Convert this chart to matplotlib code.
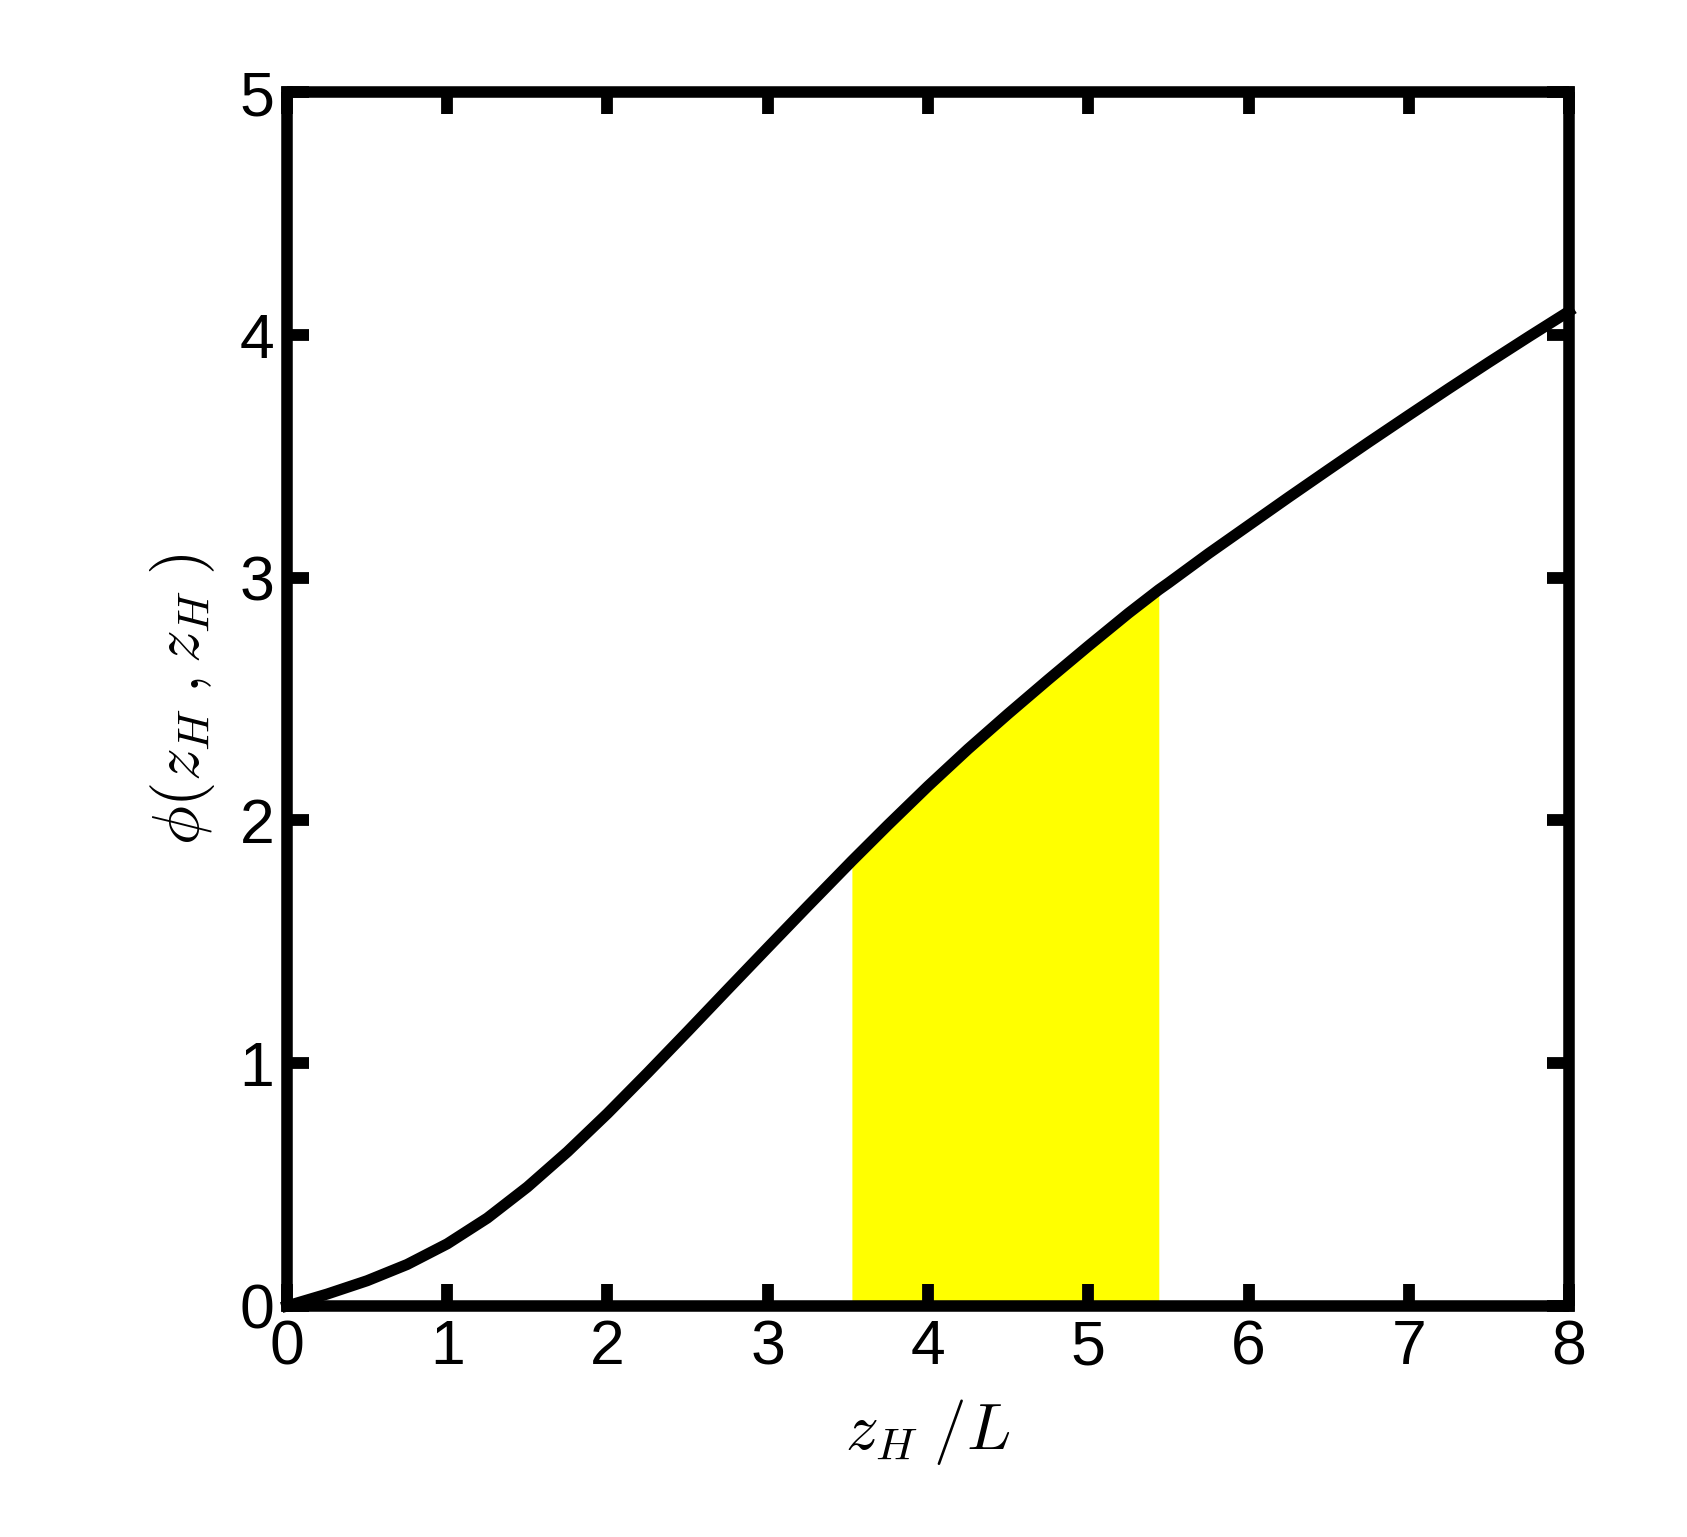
import matplotlib
matplotlib.use("Agg")
import matplotlib.pyplot as plt
import numpy as np

# Data
z_h = [0.0, 0.25, 0.5, 0.75, 1.0, 1.25, 1.5, 1.75, 2.0, 2.25, 2.5, 2.75,
       3.0, 3.25, 3.5, 3.525, 3.75, 4.0, 4.25, 4.5, 4.75, 5.0, 5.25, 5.44,
       5.5, 5.75, 6.0, 6.25, 6.5, 6.75, 7.0, 7.25, 7.5, 7.75, 8.0]
phi = [0.0, 0.049, 0.104, 0.171, 0.256, 0.362, 0.490, 0.635, 0.793, 0.960,
       1.131, 1.304, 1.476, 1.647, 1.816, 1.833, 1.981, 2.141, 2.294, 2.439,
       2.580, 2.718, 2.853, 2.950, 2.978, 3.099, 3.215, 3.331, 3.445, 3.558,
       3.669, 3.779, 3.887, 3.993, 4.097]
band = [3.525, 5.44]
xticks = [0, 1, 2, 3, 4, 5, 6, 7, 8]
yticks = [0, 1, 2, 3, 4, 5]

plt.rcParams['mathtext.fontset'] = 'cm'
plt.rcParams['font.family'] = ['Liberation Sans', 'DejaVu Sans']

fig = plt.figure(figsize=(16.87, 15.37), dpi=100)
ax = fig.add_axes([0.1701, 0.1503, 0.7600, 0.7898])

x = np.array(z_h)
y = np.array(phi)
mask = (x >= band[0]) & (x <= band[1])
ax.fill_between(x, 0, y, where=mask, color='#ffff00', linewidth=0, zorder=1)
ax.plot(x, y, color='black', lw=8.0, solid_joinstyle='round', zorder=3, clip_on=False)

ax.set_xlim(0, 8)
ax.set_ylim(0, 5)
ax.set_xticks(xticks)
ax.set_yticks(yticks)
ax.tick_params(direction='in', length=16, width=8.5, top=True, right=True,
               labelsize=45, colors='black')
ax.tick_params(axis='x', pad=9)
ax.tick_params(axis='y', pad=9)
for s in ax.spines.values():
    s.set_linewidth(8.3)
    s.set_capstyle('projecting')
    s.set_zorder(4)

ax.set_xlabel(r'$z_H\;/L$', fontsize=47, labelpad=14)
ax.set_ylabel(r'$\phi(z_H\;,z_H\;)$', fontsize=47, labelpad=16)

fig.savefig('out.png', dpi=100, facecolor='white')
